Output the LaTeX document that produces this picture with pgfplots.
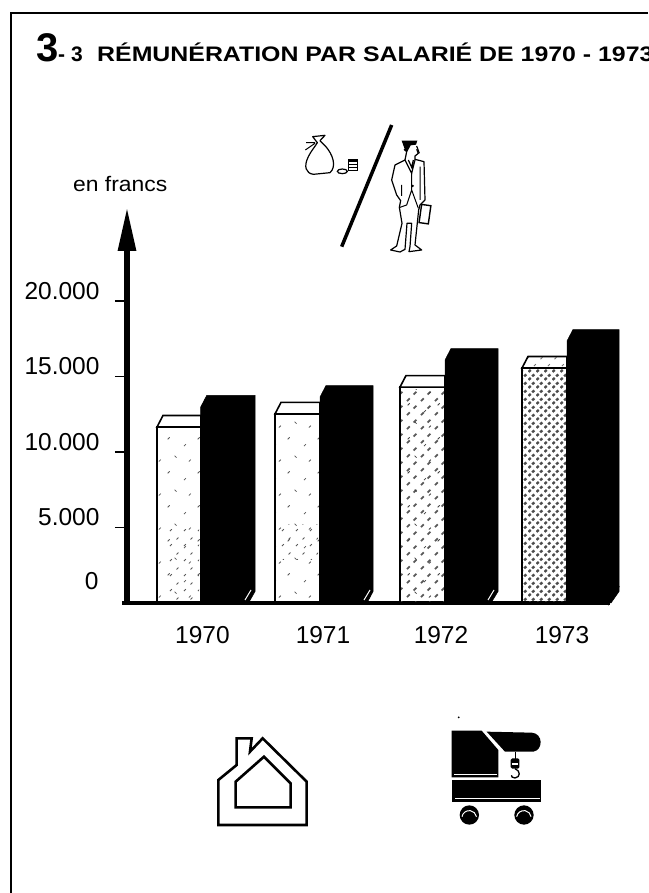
\documentclass[border=0pt]{standalone}
\usepackage{fontspec}
\setmainfont{Liberation Sans}
\usepackage{pgfplots}
\pgfplotsset{compat=1.18}
\usetikzlibrary{patterns,arrows.meta}
% sparse speckle
\pgfdeclarepatternformonly{speckA}{\pgfqpoint{0pt}{0pt}}{\pgfqpoint{30pt}{34pt}}{\pgfqpoint{30pt}{34pt}}{
 \pgfsetlinewidth{0.8pt}
 \pgfpathmoveto{\pgfqpoint{4pt}{5pt}}\pgfpathlineto{\pgfqpoint{6pt}{7pt}}
 \pgfpathmoveto{\pgfqpoint{18pt}{12pt}}\pgfpathlineto{\pgfqpoint{20pt}{14pt}}
 \pgfpathmoveto{\pgfqpoint{9pt}{24pt}}\pgfpathlineto{\pgfqpoint{11pt}{26pt}}
 \pgfpathmoveto{\pgfqpoint{25pt}{30pt}}\pgfpathlineto{\pgfqpoint{27pt}{28pt}}
 \pgfusepath{stroke}}
\pgfdeclarepatternformonly{speckB}{\pgfqpoint{0pt}{0pt}}{\pgfqpoint{14pt}{15pt}}{\pgfqpoint{14pt}{15pt}}{
 \pgfsetlinewidth{0.9pt}
 \pgfpathmoveto{\pgfqpoint{2pt}{2pt}}\pgfpathlineto{\pgfqpoint{4pt}{4pt}}
 \pgfpathmoveto{\pgfqpoint{9pt}{9pt}}\pgfpathlineto{\pgfqpoint{11pt}{11pt}}
 \pgfusepath{stroke}}
\pgfdeclarepatternformonly{speckC}{\pgfqpoint{0pt}{0pt}}{\pgfqpoint{14pt}{14pt}}{\pgfqpoint{14pt}{14pt}}{
 \pgfsetlinewidth{1.8pt}
 \pgfpathmoveto{\pgfqpoint{1pt}{2pt}}\pgfpathlineto{\pgfqpoint{4pt}{5pt}}
 \pgfpathmoveto{\pgfqpoint{8pt}{9pt}}\pgfpathlineto{\pgfqpoint{11pt}{12pt}}
 \pgfusepath{stroke}}
\pgfdeclarepatternformonly{speckD}{\pgfqpoint{0pt}{0pt}}{\pgfqpoint{8pt}{8pt}}{\pgfqpoint{8pt}{8pt}}{
 \pgfsetlinewidth{2.6pt}
 \pgfpathmoveto{\pgfqpoint{0.6pt}{1.2pt}}\pgfpathlineto{\pgfqpoint{3pt}{3.4pt}}
 \pgfpathmoveto{\pgfqpoint{4.6pt}{5.2pt}}\pgfpathlineto{\pgfqpoint{7pt}{7.4pt}}
 \pgfusepath{stroke}}
\begin{document}
\begin{tikzpicture}
\begin{scope}[x=1pt,y=-1pt,shift={(-127pt,603pt)}]
 \path[use as bounding box,fill=white] (0,0) rectangle (648,893);
 % frame
 \draw[line width=1.3pt] (648,13)--(11,13)--(11,893);
 % title
 \node[anchor=base west,inner sep=0pt] at (36,62) {\fontsize{40}{40}\selectfont\bfseries 3};
 \node[anchor=base west,inner sep=0pt] at (58,62) {\fontsize{21}{21}\selectfont\bfseries -};
 \node[anchor=base west,inner sep=0pt] at (71,62) {\fontsize{21}{21}\selectfont\bfseries 3};
 \node[anchor=base west,inner sep=0pt] at (97,62) {\fontsize{21}{21}\selectfont\bfseries\scalebox{1.185}[1]{RÉMUNÉRATION PAR SALARIÉ DE 1970 - 1973}};
 \node[anchor=base west,inner sep=0pt] at (73,192) {\fontsize{21}{21}\selectfont\scalebox{1.09}[1]{en francs}};
\end{scope}
\begin{axis}[
 at={(0pt,0pt)},anchor=south west,
 scale only axis,width=483pt,height=396pt,
 xmin=127,xmax=610,ymin=0,ymax=26225,
 clip=false,
 axis x line=bottom,axis y line=left,
 axis line style={-},
 x axis line style={line width=4.6pt,-,shorten <=-5pt},
 y axis line style={line width=6pt,-{Triangle[length=44pt,width=17pt]}},
 tick align=outside,major tick length=12pt,
 x tick style={draw=none},y tick style={line width=1.8pt,black},
 /pgf/number format/assume math mode=true,
 scaled y ticks=false,
 xtick={202.5,323,441,562},xticklabels={1970,1971,1972,1973},
 xticklabel style={font=\fontsize{24.5}{25}\selectfont,yshift=-8pt},
 ytick={5000,10000,15000,20000},yticklabels={5.000,10.000,15.000,20.000},
 extra y ticks={0},extra y tick labels={0},
 extra y tick style={major tick length=0pt,yticklabel style={xshift=-13pt,yshift=11.5pt}},
 yticklabel style={font=\fontsize{24.5}{25}\selectfont,yshift=10pt,xshift=-12pt},
 ybar,bar shift=0pt,
]
% light bars
\addplot[bar width=43.7pt,draw=black,line width=1.6pt,pattern=speckA,pattern color=black!65] coordinates {(178.85,11655)};
\addplot[bar width=45pt,draw=black,line width=1.6pt,pattern=speckA,pattern color=black!65] coordinates {(297.5,12520)};
\addplot[bar width=45pt,draw=black,line width=1.6pt,pattern=speckC,pattern color=black!65] coordinates {(422.5,14300)};
\addplot[bar width=45pt,draw=black,line width=1.6pt,pattern=speckD,pattern color=black!70] coordinates {(544.5,15560)};
% tops of the light bars
\addplot[sharp plot,draw=black,line width=1.6pt,fill=white] coordinates {(157,11655)(163,12417)(201,12417)(201,11655)} --cycle;
\addplot[sharp plot,draw=black,line width=1.6pt,fill=white] coordinates {(275,12520)(281,13282)(320,13282)(320,12520)} --cycle;
\addplot[sharp plot,draw=black,line width=1.6pt,fill=white] coordinates {(400,14300)(406,15062)(445,15062)(445,14300)} --cycle;
\addplot[sharp plot,draw=black,line width=1.6pt,pattern=speckB,pattern color=black!55] coordinates {(522,15560)(528,16322)(567,16322)(567,15560)} --cycle;
% black bars
\addplot[sharp plot,draw=black,fill=black,line width=0.5pt] coordinates {(200.7,0)(200.7,12980)(206.7,13742)(255,13742)(255,760)(248.5,0)} --cycle;
\addplot[sharp plot,draw=black,fill=black,line width=0.5pt] coordinates {(320,0)(320,13640)(326,14402)(373,14402)(373,760)(367,0)} --cycle;
\addplot[sharp plot,draw=black,fill=black,line width=0.5pt] coordinates {(445,0)(445,16090)(451,16852)(498,16852)(498,760)(491,0)} --cycle;
\addplot[sharp plot,draw=black,fill=black,line width=0.5pt] coordinates {(567,0)(567,17350)(573,18112)(619,18112)(619,760)(611,0)} --cycle;
\end{axis}
\begin{scope}[x=1pt,y=-1pt,shift={(-127pt,603pt)}]
 % denser speckle at foot of 1970 and 1971 bars
 \fill[pattern=speckB,pattern color=black!65] (165,530) rectangle (199,600);
 \fill[pattern=speckB,pattern color=black!65] (280,525) rectangle (318,560);
 \fill[pattern=speckA,pattern color=black!75] (403,390) rectangle (443,600);
 % white slashes at the foot of the black bars
 \draw[white,line width=1pt] (245,600)--(251,590);
 \draw[white,line width=1pt] (364,600)--(370,590);
 \draw[white,line width=1pt] (488,600)--(494,590);
 \draw[black,line width=1.6pt] (608,605)--(619,586);
 % money bag, coins, slash and man
 \begin{scope}[shift={(280,110)},scale=1/3]
  \draw[line width=3.5pt] (335,45)--(185,410);
  \draw[line width=1.2pt,line join=round] (98,80)--(135,76)--(120,92)--(136,108) .. controls (160,135) and (170,170) .. (150,188) -- (100,193) .. controls (78,190) and (70,170) .. (85,140) .. controls (92,125) and (105,110) .. (112,98) -- cycle;
  \draw[line width=1pt] (105,98)--(78,98) (105,100)--(76,120);
  \draw[line width=1.2pt] (205,150) rectangle (233,182);
  \fill (205,150) rectangle (233,156);
  \draw[line width=1pt] (205,165)--(233,165) (205,174)--(233,174);
  \draw[line width=1.2pt] (187,184) ellipse (15 and 7);
  % man
  \draw[line width=1.2pt,line join=round] (375,150)--(345,165)--(335,210)--(350,255)--(362,272)--(358,292)--(366,340)--(350,408)--(332,420)--(360,426)--(375,418)--(381,340)--(395,340)--(390,410)--(387,425)--(425,420)--(405,405)--(416,300)--(420,285)--(435,270)--(432,155)--(405,148);
  \draw[line width=1.2pt,line join=round] (375,150)--(380,125)--(372,118) (405,150)--(405,138)--(415,130)--(410,118);
  \fill (365,92)--(412,92)--(408,104)--(392,106)--(382,125)--(375,120)--cycle;
  \draw[line width=1.2pt] (410,108)--(418,130);
  \draw[line width=1.2pt] (375,150)--(395,190)--(405,150) (385,150)--(395,172)--(400,150);
  \draw[line width=1pt] (395,190)--(395,240)--(380,285)--(360,292) (395,240)--(415,295) (365,225)--(365,258) (420,170)--(420,270);
  \draw[line width=1.4pt,rotate around={-8:(435,312)}] (421,285) rectangle (449,340);
  \fill (398,228) circle (4);
 \end{scope}
 % house and crane
 \begin{scope}[shift={(200,700)},scale=1/3]
  \draw[line width=2.6pt,line join=miter] (55,375)--(55,240)--(110,195)--(110,115)--(155,115)--(150,155)--(188,115)--(320,245)--(320,375)--cycle;
  \draw[line width=2.6pt,line join=miter] (107,322)--(107,245)--(192,170)--(272,250)--(272,322)--cycle;
  \fill (755,92)--(845,92)--(895,150)--(895,232)--(755,232)--cycle;
  \draw[white,line width=1pt] (763,224)--(890,224);
  \fill (860,95)--(995,98) .. controls (1030,100) and (1030,150) .. (1000,155)--(915,155)--cycle;
  \draw[line width=1pt] (945,155)--(945,178);
  \fill[rounded corners=1.5pt] (932,175) rectangle (958,206);
  \fill[white] (937,190) rectangle (953,195);
  \draw[line width=1.3pt] (945,206) .. controls (962,212) and (962,232) .. (945,234) .. controls (938,234) and (934,230) .. (934,226);
  \fill (755,240) rectangle (1022,305);
  \draw[white,line width=1pt] (765,295)--(1020,295);
  \fill (808,345) circle (29);
  \fill (972,345) circle (29);
  \draw[white,line width=1pt] (786,350) arc (190:350:22);
  \draw[white,line width=1pt] (950,350) arc (190:350:22);
  \fill (776,52) circle (3);
 \end{scope}
\end{scope}
\end{tikzpicture}
\end{document}
